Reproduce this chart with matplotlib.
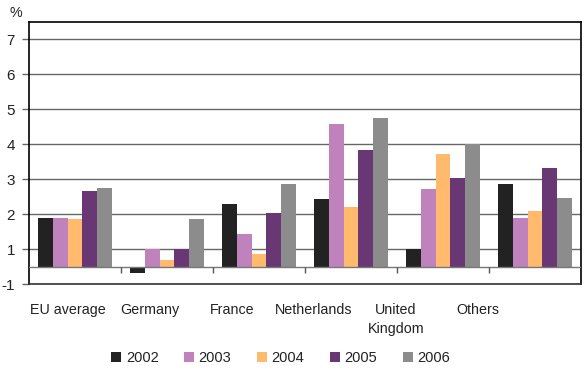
import matplotlib
matplotlib.use("Agg")
import matplotlib.pyplot as plt
import numpy as np

plt.rcParams["font.family"] = ["Liberation Sans", "DejaVu Sans"]

categories = ["EU average", "Germany", "France", "Netherlands", "United\nKingdom", "Others"]
years = ["2002", "2003", "2004", "2005", "2006"]
values = {
    "2002": [1.88, -0.37, 2.29, 2.44, 0.99, 2.87],
    "2003": [1.89, 1.00, 1.43, 4.58, 2.71, 1.89],
    "2004": [1.86, 0.36, 0.69, 2.20, 3.71, 2.08],
    "2005": [2.65, 1.00, 2.04, 3.85, 3.03, 3.33],
    "2006": [2.74, 1.86, 2.85, 4.76, 4.01, 2.46],
}
colors = ["#222222", "#BF82BC", "#FFBA6E", "#6A3775", "#8C8C8C"]
yticks = [-1, 1, 2, 3, 4, 5, 6, 7]


# the source axis squeezes the -1..1 band to half height
def fwd(v):
    v = np.asarray(v, dtype=float)
    return np.where(np.abs(v) <= 1, v * 0.5, np.sign(v) * (np.abs(v) - 0.5))


def inv(p):
    p = np.asarray(p, dtype=float)
    return np.where(np.abs(p) <= 0.5, p * 2, np.sign(p) * (np.abs(p) + 0.5))


fig = plt.figure(figsize=(5.87, 3.73), dpi=100)
ax = fig.add_axes([29 / 587, 1 - 284 / 373, 552 / 587, 262 / 373])
ax.set_yscale("function", functions=(fwd, inv))

x = np.arange(len(categories))
width = 0.16
for j, yr in enumerate(years):
    ax.bar(x + (j - 2) * width, values[yr], width, color=colors[j], label=yr,
           linewidth=0, zorder=2)

ax.set_xlim(-0.5, len(categories) - 0.5)
ax.set_ylim(-1, 7.5)
ax.set_yticks(yticks)
ax.set_yticklabels([str(t) for t in yticks], fontsize=11, color="#222222")
ax.set_axisbelow(True)
ax.grid(axis="y", color="#666666", linewidth=1)
ax.tick_params(axis="y", direction="out", length=5, width=1, color="#666666", pad=5)

# baseline with category separators
ax.axhline(0, color="#777777", linewidth=1, zorder=3)
ax.vlines(x[:-1] + 0.5, 0, -0.35, color="#555555", linewidth=1, zorder=3)

# category labels sit slightly compressed toward the left in the source
label_pos = x * 0.891 - 0.076
ax.set_xticks(label_pos)
ax.set_xticklabels(categories, fontsize=10.3, color="#222222")
for t in ax.get_xticklabels():
    t.set_linespacing(1.5)
ax.tick_params(axis="x", length=0, pad=13.5)

for side in ["left", "right", "top"]:
    ax.spines[side].set_color("black")
    ax.spines[side].set_linewidth(1.2)
ax.spines["bottom"].set_color("#333333")
ax.spines["bottom"].set_linewidth(1.2)

fig.text(16 / 587, 1 - 13 / 373, "%", ha="center", va="center", fontsize=10.3,
         color="#222222")

fig.legend(loc="center", bbox_to_anchor=(0.478, 1 - 358 / 373), ncol=5, frameon=False,
           fontsize=10.5, handlelength=0.7, handleheight=0.7, handletextpad=0.3,
           columnspacing=1.75, labelcolor="#222222")

fig.savefig("out.png", dpi=100)
